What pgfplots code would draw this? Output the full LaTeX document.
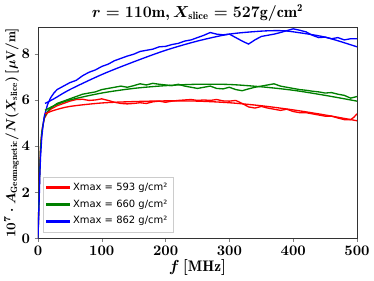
\documentclass[border=0pt]{standalone}
\usepackage{pgfplots}
\pgfplotsset{compat=1.18}
\usepackage{fontspec}
\setsansfont{DejaVu Sans}
\definecolor{mgreen}{HTML}{008000}
\begin{document}
\begin{tikzpicture}
\begin{axis}[
  scale only axis, width=240pt, height=159pt,
  xmin=0, xmax=500, ymin=0, ymax=9.15,
  xtick={0,100,200,300,400,500}, ytick={0,2,4,6,8},
  tick align=outside, tick pos=left,
  major tick length=2.5pt,
  ticklabel style={font=\fontsize{10.5}{12}\selectfont\boldmath},
  xlabel style={font=\fontsize{11.5}{13}\selectfont\boldmath, yshift=4pt},
  ylabel style={font=\fontsize{9.8}{11}\selectfont\boldmath, yshift=-5pt},
  title style={font=\fontsize{12}{14}\selectfont\boldmath, yshift=-5pt},
  title={$r=110\mathrm{m}, X_{\mathrm{slice}}=527\mathrm{g/cm^2}$},
  xlabel={$f\,[\mathrm{MHz}]$},
  ylabel={$10^7\cdot A_{\mathrm{Geomagnetic}}/N(X_{\mathrm{slice}})\,[\mu\mathrm{V/m}]$},
  axis line style={black!80},
  legend style={at={(0.015,0.03)}, anchor=south west, draw=black!20,
    font=\sffamily\fontsize{7.5}{9}\selectfont, row sep=1.5pt, inner sep=2.5pt},
  legend cell align=left,
  legend image code/.code={\fill[#1] (0pt,-0.6pt) rectangle (0.6cm,0.6pt);},
]
\addplot[red, line width=1pt] coordinates {(0,0)(1,1.0)(2,2.2)(3,3.2)(4,3.9)(5,4.3)(7,4.8)(10,5.2)(15,5.45)(20,5.6)(30,5.75)(40,5.85)(50,5.95)(60,6.02)(70,6.03)(80,5.98)(90,6.0)(100,6.05)(110,5.98)(120,5.9)(130,5.85)(140,5.83)(150,5.85)(160,5.88)(170,5.85)(180,5.92)(190,5.95)(200,5.9)(210,5.95)(220,5.98)(230,6.0)(240,6.02)(250,5.98)(260,6.0)(270,5.98)(280,6.02)(290,5.96)(300,5.95)(310,5.98)(320,5.85)(330,5.7)(340,5.65)(350,5.72)(360,5.65)(370,5.6)(380,5.55)(390,5.6)(400,5.5)(410,5.45)(420,5.45)(430,5.4)(440,5.35)(450,5.3)(460,5.3)(470,5.22)(480,5.15)(490,5.15)(495,5.25)(500,5.4)};
\addlegendentry{Xmax = 593 g/cm²}
\addplot[mgreen, line width=1pt] coordinates {(0,0)(1,1.0)(2,2.2)(4,3.9)(6,4.6)(10,5.25)(15,5.5)(20,5.65)(30,5.85)(40,5.95)(50,6.05)(60,6.15)(70,6.25)(80,6.3)(90,6.35)(100,6.45)(110,6.5)(120,6.55)(130,6.6)(140,6.55)(150,6.62)(160,6.7)(170,6.65)(180,6.72)(190,6.68)(200,6.65)(210,6.62)(220,6.68)(230,6.6)(240,6.55)(250,6.5)(260,6.55)(270,6.6)(280,6.5)(290,6.48)(300,6.55)(310,6.45)(320,6.4)(330,6.48)(340,6.55)(350,6.6)(360,6.65)(370,6.7)(380,6.6)(390,6.55)(400,6.5)(410,6.45)(420,6.42)(430,6.38)(440,6.35)(450,6.3)(460,6.32)(470,6.25)(480,6.2)(490,6.08)(500,6.15)};
\addlegendentry{Xmax = 660 g/cm²}
\addplot[blue, line width=1pt] coordinates {(0,0)(1,0.8)(2,1.8)(3,2.8)(4,3.5)(6,4.4)(8,4.9)(10,5.3)(15,5.8)(20,6.1)(25,6.3)(30,6.45)(40,6.6)(50,6.75)(60,6.85)(70,7.05)(80,7.2)(90,7.3)(100,7.45)(110,7.55)(120,7.7)(130,7.8)(140,7.9)(150,7.98)(160,8.1)(170,8.15)(180,8.2)(190,8.3)(200,8.32)(210,8.4)(220,8.45)(230,8.55)(240,8.6)(250,8.7)(260,8.8)(270,8.92)(280,8.85)(290,8.82)(300,8.85)(310,8.7)(320,8.55)(330,8.42)(340,8.6)(350,8.75)(360,8.8)(370,8.85)(380,8.92)(390,9.0)(400,9.08)(410,9.02)(420,8.95)(430,8.8)(440,8.7)(450,8.72)(460,8.65)(470,8.7)(480,8.6)(490,8.65)(500,8.65)};
\addlegendentry{Xmax = 862 g/cm²}
\addplot[red, line width=1pt, smooth, forget plot] coordinates {(11,5.4)(25,5.55)(50,5.72)(100,5.87)(150,5.93)(200,5.96)(250,5.95)(300,5.88)(350,5.75)(400,5.57)(450,5.35)(500,5.1)};
\addplot[mgreen, line width=1pt, smooth, forget plot] coordinates {(11,5.55)(25,5.75)(50,6.0)(100,6.3)(150,6.5)(200,6.62)(250,6.68)(300,6.67)(350,6.57)(400,6.42)(450,6.2)(500,5.95)};
\addplot[blue, line width=1pt, smooth, forget plot] coordinates {(11,5.85)(25,6.05)(50,6.45)(100,7.1)(150,7.65)(200,8.15)(250,8.55)(300,8.85)(350,8.98)(380,9.0)(400,8.95)(450,8.72)(500,8.3)};
\end{axis}
\end{tikzpicture}
\end{document}
